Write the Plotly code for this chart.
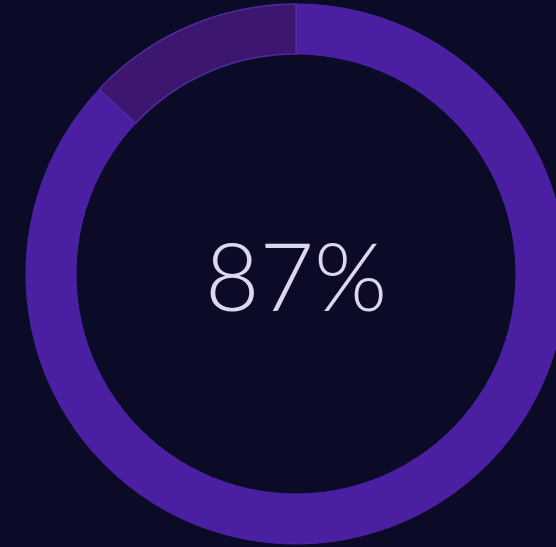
import plotly.graph_objects as go

labels = ["Progress", "Remaining"]
values = [87, 13]
center_text = "87%"

W, H = 570, 547
cx, cy, r = 296, 274, 270

fig = go.Figure()
fig.add_trace(go.Pie(
    labels=labels,
    values=values,
    hole=0.815,
    sort=False,
    direction="clockwise",
    rotation=0,
    textinfo="none",
    hoverinfo="skip",
    showlegend=False,
    marker=dict(
        colors=["#4a1fa2", "#3d166f"],
        line=dict(color=["#4f24a8", "#4e2c9c"], width=[1, 1.5]),
    ),
    domain=dict(x=[(cx - r) / W, (cx + r) / W],
                y=[(H - cy - r) / H, (H - cy + r) / H]),
))

fig.add_annotation(
    text=center_text, x=cx / W, y=(H - cy) / H, xref="paper", yref="paper",
    showarrow=False, xanchor="center", yanchor="middle",
    font=dict(family="Lato, Inter, sans-serif", size=94, color="#dcd7ee", weight=300),
)

fig.update_layout(
    width=W, height=H,
    margin=dict(l=0, r=0, t=0, b=0),
    paper_bgcolor="#0b0a27",
    plot_bgcolor="#0b0a27",
)

fig.write_html(
    "out.html",
    config={"displayModeBar": False, "staticPlot": True},
    post_script="document.body.style.margin='0';document.body.style.overflow='hidden';"
                "document.body.style.background='#0b0a27';",
)
